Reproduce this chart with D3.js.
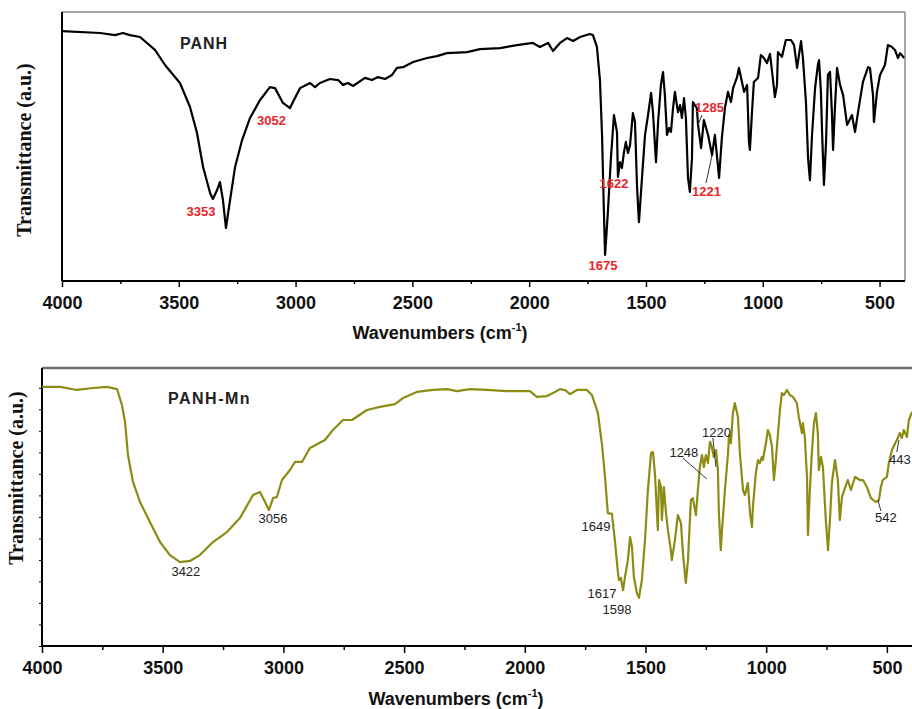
<!DOCTYPE html>
<html><head><meta charset="utf-8">
<script src="https://cdn.jsdelivr.net/npm/d3@7"></script>
<style>body{margin:0;background:#fff;} svg{display:block;}</style>
</head><body>
<svg id="chart" width="912" height="709"></svg>
<script>
// ---------- DATA ----------
const panhWn = [4000,3837,3773,3739,3709,3666,3602,3559,3495,3452,3422,3396,3366,3354,3336,3324,3311,3298,3285,3259,3229,3195,3152,3110,3088,3054,3024,3007,2981,2938,2917,2896,2853,2818,2797,2776,2754,2703,2673,2647,2617,2587,2566,2540,2497,2437,2395,2352,2266,2211,2125,2052,1984,1954,1919,1898,1868,1838,1812,1782,1740,1727,1710,1697,1688,1680,1675,1663,1650,1637,1624,1620,1611,1603,1594,1586,1577,1568,1556,1547,1538,1530,1517,1504,1491,1478,1470,1457,1448,1436,1427,1419,1410,1401,1393,1384,1376,1363,1354,1346,1337,1329,1320,1312,1303,1299,1282,1277,1264,1252,1234,1217,1205,1192,1187,1175,1162,1149,1136,1127,1110,1102,1089,1080,1067,1059,1055,1046,1038,1020,1008,995,982,969,960,948,939,935,918,901,879,866,853,845,836,828,815,806,798,789,776,764,759,751,746,738,729,721,712,704,699,691,682,669,656,639,618,605,592,571,549,541,528,524,511,498,477,464,447,434,421,412,395];
const panhT = [92.9,92.2,91.4,92.2,91.4,90.7,85.9,80.3,73.6,64.7,
55.0,42.4,32.7,30.5,33.8,36.8,30.1,19.7,27.5,42.4,
52.4,60.6,67.3,72.1,71.7,66.2,64.3,67.3,71.7,73.6,
72.1,73.6,75.1,74.7,72.9,73.6,72.5,75.5,74.7,75.8,
75.1,76.6,79.2,79.5,81.4,82.9,83.6,84.7,85.1,86.2,
86.6,87.7,88.5,87.0,88.5,85.5,88.5,90.3,89.2,90.7,
91.8,91.4,87.0,74.7,54.3,25.6,9.7,25.6,45.7,61.7,
55.4,38.7,44.2,42.0,47.9,51.7,47.6,50.6,62.4,59.1,
34.6,21.9,38.3,54.3,61.7,69.9,62.8,44.2,59.1,72.9,
77.7,69.1,54.3,56.9,55.4,64.3,70.3,62.8,65.4,60.6,
68.0,60.6,38.3,33.1,45.7,66.5,64.3,58.0,49.4,59.8,
54.3,46.8,54.3,43.1,38.3,53.2,64.3,70.3,66.5,71.7,
75.8,79.2,74.0,70.3,72.9,51.7,48.7,62.8,74.0,75.5,
84.0,82.9,81.0,84.4,77.7,68.4,72.9,85.1,83.3,89.6,
89.6,87.7,79.2,84.0,89.2,82.9,66.5,45.7,37.5,54.3,
71.7,80.3,82.1,70.3,55.4,35.7,51.7,76.6,77.7,62.8,
48.7,64.3,79.2,72.9,69.1,58.0,61.7,55.4,62.8,74.0,
79.5,79.2,69.1,59.1,70.3,76.6,80.3,87.7,87.0,85.9,
82.9,84.7,82.9];

const panhMnWn = [4000,3925,3855,3789,3731,3689,3669,3656,3644,3623,3594,3553,3511,3470,3428,3387,3346,3292,3234,3180,3126,3097,3076,3060,3043,3027,3006,2973,2952,2923,2890,2828,2795,2753,2716,2654,2600,2538,2505,2447,2380,2322,2281,2227,2157,2074,1979,1950,1908,1883,1854,1834,1813,1784,1743,1722,1697,1680,1668,1656,1639,1627,1614,1610,1602,1593,1585,1573,1564,1556,1548,1536,1527,1515,1502,1490,1477,1469,1461,1449,1444,1436,1432,1424,1415,1407,1395,1391,1378,1366,1353,1345,1333,1324,1312,1304,1291,1283,1275,1266,1258,1250,1241,1233,1225,1217,1208,1200,1196,1188,1183,1171,1158,1154,1146,1138,1130,1117,1109,1096,1088,1076,1067,1059,1055,1043,1034,1026,1018,1014,1001,993,985,976,968,960,951,943,935,927,914,902,889,873,865,852,848,840,831,827,819,811,802,794,786,782,773,765,753,744,736,728,715,703,695,686,674,662,649,632,612,599,583,566,546,533,525,517,500,492,479,459,446,438,430,417,409,396];
const panhMnT = [93.2,93.2,92.1,92.8,93.2,92.4,86.7,80.6,68.7,59.0,51.8,44.6,37.4,32.7,30.2,30.6,32.7,37.4,41.0,46.0,54.3,55.4,51.8,48.9,53.2,53.6,59.7,63.3,66.2,66.2,71.2,74.1,77.7,81.3,81.3,84.9,86.0,87.0,89.2,91.4,92.1,92.4,91.7,92.4,92.1,91.7,91.7,89.6,89.9,91.0,92.4,92.1,90.6,92.1,92.1,90.3,83.8,72.3,61.1,47.8,47.5,38.1,26.3,23.7,24.5,20.1,24.8,30.9,39.2,35.6,24.8,19.1,17.3,23.7,38.1,56.1,69.4,69.8,62.2,41.7,59.7,57.2,45.3,57.2,47.8,41.7,34.5,30.9,38.1,47.1,44.2,33.5,22.7,30.9,52.5,53.2,47.1,56.1,64.4,68.7,64.4,68.7,65.8,73.4,71.6,68.0,70.5,63.3,47.8,34.5,41.7,56.1,69.4,75.9,73.0,83.8,87.4,82.4,69.4,56.1,54.3,58.6,47.8,42.8,50.0,62.2,66.9,65.8,68.0,66.9,73.0,77.7,75.9,71.6,59.7,66.9,76.6,84.9,91.0,90.3,92.1,90.3,89.6,87.4,82.4,76.6,80.2,75.2,60.8,39.9,56.1,69.4,80.2,83.8,76.6,63.3,68.0,64.4,45.3,34.5,45.3,58.6,66.9,59.7,45.3,53.6,56.8,59.7,56.1,60.8,59.7,59.7,57.2,53.2,51.8,52.5,57.2,59.7,60.8,65.8,70.5,74.1,76.6,74.8,77.7,75.2,81.3,84.2];

const majorTicks = [4000,3500,3000,2500,2000,1500,1000,500];
const minorTicks = [3750,3250,2750,2250,1750,1250,750];

// peak labels: text, wavenumber, transmittance (text anchor position)
const panhLabels = [["3353",3405,24.2],["3052",3103,58.0],["1675",1684,4.1],["1622",1637,34.6],["1221",1241,31.6],["1285",1228,62.8]];
const panhLeaders = [[1243,36.4,1217,46.8],[1260,61.7,1277,58.0]];
const panhMnLabels = [["3422",3404,25.2],["3056",3043,44.2],["1649",1705,41.4],["1617",1680,17.3],["1598",1618,11.5],["1248",1341,68.0],["1220",1206,75.2],["542",504,44.6],["443",446,65.5]];
const panhMnLeaders = [[1345,67.6,1246,60.1],[1221,74.8,1208,64.4],[537,52.5,525,48.6],[450,74.1,459,69.8]];

// ---------- DRAW ----------
const svg = d3.select("#chart");
const sans = "Arial, 'Liberation Sans', Helvetica, sans-serif";
const serif = "'Times New Roman', 'Liberation Serif', serif";

function drawPanel(cfg) {
  const x = d3.scaleLinear().domain(cfg.xDomain).range([cfg.left, cfg.right]);
  const y = d3.scaleLinear().domain([0, 100]).range([cfg.bottom, cfg.top]);
  const g = svg.append("g");
  const clipId = "clip" + cfg.id;
  svg.append("defs").append("clipPath").attr("id", clipId)
    .append("rect").attr("x", cfg.left).attr("y", cfg.top - 2)
    .attr("width", cfg.right - cfg.left).attr("height", cfg.bottom - cfg.top + 2);

  // frame (top / right)
  g.append("line").attr("x1", cfg.left).attr("x2", cfg.right).attr("y1", cfg.top).attr("y2", cfg.top)
    .attr("stroke", cfg.frameColor).attr("stroke-width", cfg.frameWidth);
  if (cfg.rightFrame) {
    g.append("line").attr("x1", cfg.right).attr("x2", cfg.right).attr("y1", cfg.top).attr("y2", cfg.bottom)
      .attr("stroke", cfg.frameColor).attr("stroke-width", cfg.frameWidth);
  }

  // x axis major
  const axMaj = d3.axisBottom(x).tickValues(majorTicks).tickSize(cfg.majorSize).tickFormat(d3.format("d"));
  const gMaj = g.append("g").attr("transform", `translate(0,${cfg.bottom})`).call(axMaj);
  gMaj.select(".domain").remove();
  gMaj.selectAll(".tick line").attr("stroke", "#000").attr("stroke-width", 1.5);
  gMaj.selectAll(".tick text").attr("y", 15).attr("dy", "0.71em")
    .attr("font-family", sans).attr("font-size", 18).attr("font-weight", "bold").attr("fill", "#111");
  const axMin = d3.axisBottom(x).tickValues(minorTicks).tickSize(cfg.minorSize).tickFormat("");
  const gMin = g.append("g").attr("transform", `translate(0,${cfg.bottom})`).call(axMin);
  gMin.select(".domain").remove();
  gMin.selectAll(".tick line").attr("stroke", "#000").attr("stroke-width", 1.5);

  // y minor ticks
  if (cfg.yTicks) {
    const axY = d3.axisLeft(y).tickValues(cfg.yTicks).tickSize(3).tickFormat("");
    const gY = g.append("g").attr("transform", `translate(${cfg.left},0)`).call(axY);
    gY.select(".domain").remove();
    gY.selectAll(".tick line").attr("stroke", "#000").attr("stroke-width", 1);
  }

  // axis lines
  g.append("line").attr("x1", cfg.left).attr("x2", cfg.right).attr("y1", cfg.bottom).attr("y2", cfg.bottom)
    .attr("stroke", "#000").attr("stroke-width", 2);
  g.append("line").attr("x1", cfg.left).attr("x2", cfg.left).attr("y1", cfg.top).attr("y2", cfg.bottom)
    .attr("stroke", "#000").attr("stroke-width", 2);

  // spectrum
  const data = d3.zip(cfg.wn, cfg.t);
  const line = d3.line().x(d => x(d[0])).y(d => y(d[1]));
  g.append("path").datum(data).attr("d", line).attr("fill", "none")
    .attr("stroke", cfg.color).attr("stroke-width", 2.2).attr("stroke-linejoin", "round")
    .attr("clip-path", `url(#${clipId})`);

  // leaders
  g.selectAll(null).data(cfg.leaders).enter().append("line")
    .attr("x1", d => x(d[0])).attr("y1", d => y(d[1]))
    .attr("x2", d => x(d[2])).attr("y2", d => y(d[3]))
    .attr("stroke", "#333").attr("stroke-width", 1);

  // labels
  g.selectAll(null).data(cfg.labels).enter().append("text")
    .attr("x", d => x(d[1])).attr("y", d => y(d[2]))
    .attr("text-anchor", "middle").attr("font-family", sans).attr("font-size", 13)
    .attr("font-weight", cfg.labelWeight).attr("fill", cfg.labelColor).text(d => d[0]);

  // sample title
  g.append("text").attr("x", cfg.titleX).attr("y", cfg.titleY)
    .attr("font-family", sans).attr("font-size", 16).attr("font-weight", "bold")
    .attr("letter-spacing", cfg.titleSpacing).attr("fill", "#222").text(cfg.title);

  // x title
  const xt = g.append("text").attr("x", (cfg.xTitleX)).attr("y", cfg.xTitleY)
    .attr("text-anchor", "middle").attr("font-family", sans).attr("font-size", 18)
    .attr("font-weight", "bold").attr("fill", "#111");
  xt.append("tspan").text("Wavenumbers (cm");
  xt.append("tspan").attr("font-size", 11).attr("dy", -8).text("-1");
  xt.append("tspan").attr("dy", 8).text(")");

  // y title
  g.append("text").attr("transform", `translate(${cfg.yTitleX},${cfg.yTitleY}) rotate(-90)`)
    .attr("text-anchor", "middle").attr("font-family", serif).attr("font-size", 20)
    .attr("font-weight", "bold").attr("fill", "#111").text("Transmittance (a.u.)");
}

drawPanel({
  id: "a", xDomain: [4000, 391], left: 62, right: 905, top: 12, bottom: 281,
  wn: panhWn, t: panhT, color: "#000", frameColor: "#8a8a8a", frameWidth: 1.5, rightFrame: true,
  majorSize: 6, minorSize: 3, yTicks: null,
  labels: panhLabels, leaders: panhLeaders, labelColor: "#e8262c", labelWeight: "bold",
  title: "PANH", titleX: 180, titleY: 49, titleSpacing: 1,
  xTitleX: 440, xTitleY: 339, yTitleX: 31, yTitleY: 150
});

drawPanel({
  id: "b", xDomain: [4000, 396], left: 42, right: 912, top: 368, bottom: 646,
  wn: panhMnWn, t: panhMnT, color: "#8c8c14", frameColor: "#6e6e6e", frameWidth: 2.5, rightFrame: false,
  majorSize: 7, minorSize: 4, yTicks: d3.range(0, 93.5, 7.74),
  labels: panhMnLabels, leaders: panhMnLeaders, labelColor: "#222", labelWeight: "normal",
  title: "PANH-Mn", titleX: 168, titleY: 404, titleSpacing: 1.5,
  xTitleX: 456, xTitleY: 705, yTitleX: 23, yTitleY: 478
});
</script>
</body></html>
